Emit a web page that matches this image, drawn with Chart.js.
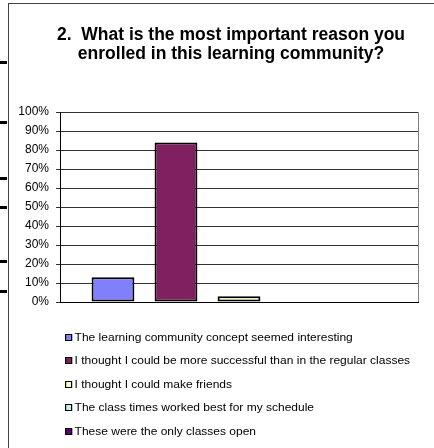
<!DOCTYPE html>
<html>
<head>
<meta charset="utf-8">
<script src="https://cdn.jsdelivr.net/npm/chart.js@4.4.1/dist/chart.umd.min.js"></script>
<style>
  body { margin: 0; background: #fff; }
  #wrap { position: relative; width: 434px; height: 448px; overflow: hidden; background: #fff; }
  #chart { position: absolute; left: 0; top: 0; }
  #frame { position: absolute; left: 8px; top: 3px; width: 440px; height: 460px; border-left: 1px solid #444; border-top: 1px solid #444; }
  .dash { position: absolute; left: 0; width: 7px; height: 3px; background: #000; }
  #legend { position: absolute; left: 65px; top: 325.5px; font-family: "Liberation Sans", Arial, sans-serif; font-size: 10px; color: #000; transform: scaleX(1.2); transform-origin: 0 0; }
  .row { height: 23.5px; line-height: 23.5px; white-space: nowrap; }
  .box { display: inline-block; width: 4px; height: 5px; border: 1px solid #000; margin-right: 2px; }
</style>
</head>
<body>
<div id="wrap">
  <div id="frame"></div>
  <div class="dash" style="top:61px"></div>
  <div class="dash" style="top:121px"></div>
  <div class="dash" style="top:177px"></div>
  <div class="dash" style="top:206px"></div>
  <div class="dash" style="top:260px"></div>
  <div class="dash" style="top:290px"></div>
  <canvas id="chart" width="434" height="448"></canvas>
  <div id="legend"></div>
</div>
<script>
const categories = [""];
const seriesLabels = [
  "The learning community concept seemed interesting",
  "I thought I could be more successful than in the regular classes",
  "I thought I could make friends",
  "The class times worked best for my schedule",
  "These were the only classes open",
];
const seriesValues = [13, 84, 3, 0, 0];
const seriesColors = ["#8080ff", "#802060", "#ffffc0", "#c0f0f0", "#600070"];
const titleLines = [
  "2.  What is the most important reason you",
  "enrolled in this learning community?",
];

const font = '"Liberation Sans", Arial, sans-serif';

// Excel plot-area edge on the right, and the title centred a bit right of the canvas middle
const plotBorder = {
  id: "plotBorder",
  afterLayout(chart) {
    const t = chart.titleBlock;
    t.left = 44;
    t.right = 418;
    t.width = t.right - t.left;
  },
  afterDraw(chart) {
    const { ctx, chartArea: a } = chart;
    ctx.save();
    ctx.strokeStyle = "#808080";
    ctx.lineWidth = 1;
    ctx.beginPath();
    ctx.moveTo(Math.round(a.right) + 0.5, a.top);
    ctx.lineTo(Math.round(a.right) + 0.5, a.bottom);
    ctx.stroke();
    ctx.restore();
  },
};

const chart = new Chart(document.getElementById("chart"), {
  type: "bar",
  data: {
    labels: categories,
    datasets: seriesLabels.map((label, i) => ({
      label: label,
      data: [seriesValues[i]],
      backgroundColor: seriesColors[i],
      borderColor: "#000",
      borderWidth: 2,
      borderSkipped: false,
      categoryPercentage: 0.88,
      barPercentage: 0.68,
    })),
  },
  options: {
    responsive: false,
    animation: false,
    layout: { padding: { left: 10, right: 16, top: 0, bottom: 146 } },
    plugins: {
      legend: { display: false },
      tooltip: { enabled: false },
      title: {
        display: true,
        text: titleLines,
        color: "#000",
        font: { family: font, size: 17.5, weight: "bold", lineHeight: 1.06 },
        padding: { top: 26, bottom: 49 },
      },
    },
    scales: {
      x: {
        ticks: { display: false },
        grid: { display: false },
        border: { display: true, color: "#000", width: 1 },
        afterFit(scale) { scale.height = 0; },
      },
      y: {
        min: 0,
        max: 100,
        ticks: {
          stepSize: 10,
          padding: 7,
          color: "#000",
          font: { family: font, size: 12 },
          callback: (v) => v + "%",
        },
        grid: { color: "#333", tickLength: 4, drawTicks: true },
        border: { display: true, color: "#000", width: 1 },
        afterFit(scale) { scale.width = 50; },
      },
    },
  },
  plugins: [plotBorder],
});

const legend = document.getElementById("legend");
chart.data.datasets.forEach((ds) => {
  const row = document.createElement("div");
  row.className = "row";
  const box = document.createElement("span");
  box.className = "box";
  box.style.background = ds.backgroundColor;
  row.appendChild(box);
  row.appendChild(document.createTextNode(ds.label));
  legend.appendChild(row);
});
</script>
</body>
</html>
